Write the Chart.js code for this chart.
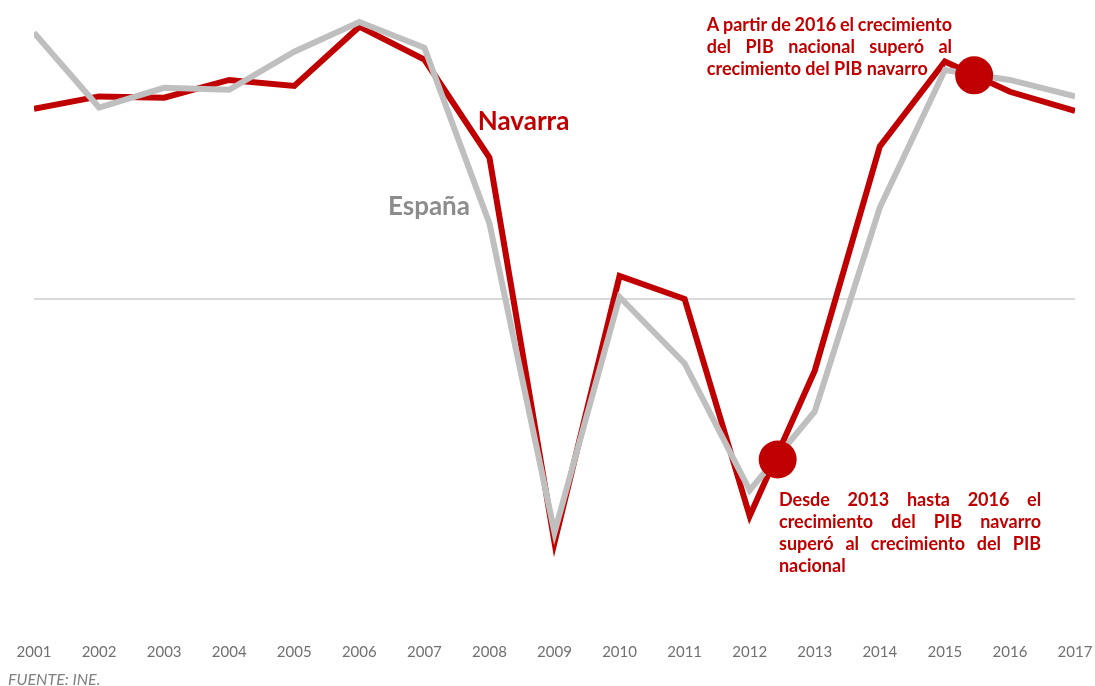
<!DOCTYPE html>
<html lang="es">
<head>
<meta charset="utf-8">
<title>PIB Navarra vs España</title>
<script src="https://cdn.jsdelivr.net/npm/chart.js@4.4.1/dist/chart.umd.min.js"></script>
<style>
    html, body { margin: 0; padding: 0; background: #fff; }
    #wrap { position: relative; width: 1095px; height: 686px; }
</style>
</head>
<body>
<div id="wrap"><canvas id="myChart"></canvas></div>
<script>
(() => {
    'use strict';

    // Data (% growth)
    const years = [2001, 2002, 2003, 2004, 2005, 2006, 2007, 2008, 2009,
        2010, 2011, 2012, 2013, 2014, 2015, 2016, 2017];
    const espana = [4.05, 2.91, 3.21, 3.18, 3.76, 4.21, 3.82, 1.15, -3.55,
        0.03, -0.98, -2.91, -1.71, 1.39, 3.48, 3.33, 3.08];
    const navarra = [2.89, 3.08, 3.06, 3.33, 3.24, 4.14, 3.64, 2.15, -3.70,
        0.35, 0.0, -3.30, -1.09, 2.32, 3.61, 3.15, 2.86];
    const markerX = [2012.43, 2015.45];
    const markerY = [-2.44, 3.4];

    const red = '#C00000';
    const grey = '#BFBFBF';

    const notes = [
        {
            lines: ['A partir de 2016 el crecimiento', 'del PIB nacional superó al',
                'crecimiento del PIB navarro'],
            x0: 2011.34, x1: 2015.11, y: 4.16
        },
        {
            lines: ['Desde 2013 hasta 2016 el', 'crecimiento del PIB navarro',
                'superó al crecimiento del PIB', 'nacional'],
            x0: 2012.45, x1: 2016.48, y: -3.06
        }
    ];

    const toPoints = (xs, ys) => xs.map((x, i) => ({ x: x, y: ys[i] }));

    function drawJustified(ctx, lines, left, right, top, lh) {
        const width = right - left;
        lines.forEach((line, i) => {
            const y = top + i * lh;
            const words = line.split(' ');
            if (i === lines.length - 1 || words.length < 2) {
                ctx.fillText(line, left, y);
                return;
            }
            const sum = words.reduce((s, w) => s + ctx.measureText(w).width, 0);
            const gap = (width - sum) / (words.length - 1);
            let x = left;
            words.forEach(w => {
                ctx.fillText(w, x, y);
                x += ctx.measureText(w).width + gap;
            });
        });
    }

    const textPlugin = {
        id: 'textPlugin',
        afterDatasetsDraw(chart) {
            const { ctx, scales: { x, y } } = chart;
            ctx.save();
            ctx.textBaseline = 'middle';
            ctx.textAlign = 'left';

            ctx.font = 'bold 26px Lato';
            ctx.fillStyle = red;
            ctx.fillText('Navarra', x.getPixelForValue(2007.82), y.getPixelForValue(2.7));
            ctx.fillStyle = '#8C8C8C';
            ctx.fillText('España', x.getPixelForValue(2006.44), y.getPixelForValue(1.4));

            ctx.font = 'bold 18px Lato';
            ctx.fillStyle = red;
            notes.forEach(n => {
                drawJustified(ctx, n.lines, x.getPixelForValue(n.x0),
                    x.getPixelForValue(n.x1), y.getPixelForValue(n.y), 22);
            });

            ctx.font = 'italic 16px Lato';
            ctx.fillStyle = '#808080';
            ctx.fillText('FUENTE: INE.', 8, chart.height - 6);
            ctx.restore();
        }
    };

    const ctx = document.getElementById('myChart').getContext('2d');
    // eslint-disable-next-line no-unused-vars
    const myChart = new Chart(ctx, {
        type: 'line',
        data: {
            datasets: [{
                label: 'Marcadores',
                data: toPoints(markerX, markerY),
                showLine: false,
                pointRadius: 19,
                pointBackgroundColor: red,
                pointBorderWidth: 0,
                order: 0
            }, {
                label: 'España',
                data: toPoints(years, espana),
                borderColor: grey,
                borderWidth: 6,
                pointRadius: 0,
                tension: 0,
                order: 1
            }, {
                label: 'Navarra',
                data: toPoints(years, navarra),
                borderColor: red,
                borderWidth: 6,
                pointRadius: 0,
                tension: 0,
                order: 2
            }]
        },
        options: {
            responsive: true,
            maintainAspectRatio: false,
            animation: false,
            events: [],
            layout: {
                autoPadding: false,
                padding: { left: 34, right: 20, top: 3, bottom: 23 }
            },
            scales: {
                x: {
                    type: 'linear',
                    min: 2001,
                    max: 2017,
                    grid: { display: false, drawTicks: false },
                    border: { display: false },
                    ticks: {
                        stepSize: 1,
                        padding: 2,
                        color: '#707070',
                        font: { family: 'Lato', size: 15 },
                        callback: v => String(v)
                    }
                },
                y: {
                    min: -5.2,
                    max: 4.5,
                    ticks: { display: false, stepSize: 0.5 },
                    border: { display: false },
                    grid: {
                        drawTicks: false,
                        lineWidth: 2,
                        color: c => (c.tick && c.tick.value === 0 ? '#D9D9D9' : 'rgba(0,0,0,0)')
                    }
                }
            },
            plugins: {
                legend: { display: false },
                tooltip: { enabled: false }
            }
        },
        plugins: [textPlugin]
    });
})();
</script>
</body>
</html>
